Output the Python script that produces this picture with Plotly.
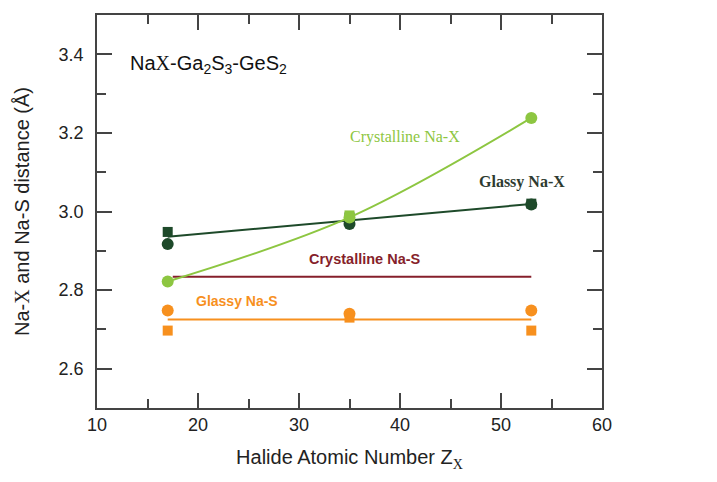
import plotly.graph_objects as go

# --- данные ---
z = [17, 35, 53]

cryst_nax = [2.822, 2.985, 3.238]
cryst_nax_sq_z = [35]
cryst_nax_sq = [2.99]

glassy_nax_circ = [2.917, 2.968, 3.018]
glassy_nax_sq = [2.948, 2.985, 3.020]
glassy_nax_fit_z = [17, 53]
glassy_nax_fit = [2.936, 3.019]

cryst_nas_z = [17.5, 53]
cryst_nas = [2.834, 2.834]

glassy_nas_circ = [2.748, 2.740, 2.748]
glassy_nas_sq = [2.697, 2.730, 2.697]
glassy_nas_fit_z = [17, 53]
glassy_nas_fit = [2.725, 2.725]

LIGHT_GREEN = '#8dc641'
DARK_GREEN = '#1e4a2a'
DARK_RED = '#861f2b'
ORANGE = '#f7901e'

fig = go.Figure()

# Glassy Na-S
fig.add_trace(go.Scatter(x=glassy_nas_fit_z, y=glassy_nas_fit, mode='lines',
                         line=dict(color=ORANGE, width=2)))
fig.add_trace(go.Scatter(x=z, y=glassy_nas_circ, mode='markers',
                         marker=dict(symbol='circle', size=12, color=ORANGE)))
fig.add_trace(go.Scatter(x=z, y=glassy_nas_sq, mode='markers',
                         marker=dict(symbol='square', size=10, color=ORANGE)))

# Crystalline Na-S
fig.add_trace(go.Scatter(x=cryst_nas_z, y=cryst_nas, mode='lines',
                         line=dict(color=DARK_RED, width=2)))

# Glassy Na-X
fig.add_trace(go.Scatter(x=glassy_nax_fit_z, y=glassy_nax_fit, mode='lines',
                         line=dict(color=DARK_GREEN, width=2)))
fig.add_trace(go.Scatter(x=z, y=glassy_nax_circ, mode='markers',
                         marker=dict(symbol='circle', size=12, color=DARK_GREEN)))
fig.add_trace(go.Scatter(x=z, y=glassy_nax_sq, mode='markers',
                         marker=dict(symbol='square', size=10, color=DARK_GREEN)))

# Crystalline Na-X
fig.add_trace(go.Scatter(x=z, y=cryst_nax, mode='lines+markers',
                         line=dict(color=LIGHT_GREEN, width=2, shape='spline'),
                         marker=dict(symbol='circle', size=12, color=LIGHT_GREEN)))
fig.add_trace(go.Scatter(x=cryst_nax_sq_z, y=cryst_nax_sq, mode='markers',
                         marker=dict(symbol='square', size=10, color=LIGHT_GREEN)))

# подписи
ann = [
    dict(x=13.1, y=3.375, xanchor='left',
         text='Na<span style="font-family:Liberation Serif">X</span>-Ga<sub>2</sub>S<sub>3</sub>-GeS<sub>2</sub>',
         font=dict(family='Liberation Sans, Arial', size=20, color='#111')),
    dict(x=40.5, y=3.19, text='Crystalline Na-X',
         font=dict(family='Liberation Serif, Times New Roman', size=16, color=LIGHT_GREEN)),
    dict(x=52.1, y=3.074, text='<b>Glassy Na-X</b>',
         font=dict(family='Liberation Serif, Times New Roman', size=16, color='#2e3b30')),
    dict(x=36.5, y=2.88, text='<b>Crystalline Na-S</b>',
         font=dict(family='Liberation Sans, Arial', size=14.5, color=DARK_RED)),
    dict(x=23.9, y=2.772, text='<b>Glassy Na-S</b>',
         font=dict(family='Liberation Sans, Arial', size=14, color=ORANGE)),
]
for a in ann:
    fig.add_annotation(showarrow=False, xref='x', yref='y', **a)

axis_common = dict(
    showgrid=False, zeroline=False, showline=True, linecolor='#444', linewidth=1.5,
    mirror='allticks', ticks='inside', ticklen=15, tickcolor='#444', tickwidth=1.5,
    tickfont=dict(family='Liberation Sans, Arial', size=18, color='#222'),
    automargin=False,
)

fig.update_xaxes(range=[10, 60], dtick=10,
                 minor=dict(ticks='inside', dtick=5, ticklen=9, tickcolor='#444', tickwidth=1.5),
                 title=dict(text='Halide Atomic Number Z<sub><span style="font-family:Liberation Serif">X</span></sub>',
                            font=dict(family='Liberation Sans, Arial', size=20, color='#222'), standoff=16),
                 **axis_common)
fig.update_yaxes(range=[2.5, 3.5], tickvals=[2.6, 2.8, 3.0, 3.2, 3.4],
                 ticktext=['2.6', '2.8', '3.0', '3.2', '3.4'],
                 ticklabelstandoff=8,
                 minor=dict(ticks='inside', tickvals=[2.7, 2.9, 3.1, 3.3], ticklen=9, tickcolor='#444', tickwidth=1.5),
                 title=dict(text='Na-<span style="font-family:Liberation Serif">X</span> and Na-S distance (Å)',
                            font=dict(family='Liberation Sans, Arial', size=20, color='#222'), standoff=24),
                 **axis_common)

# страница добавляет отступ 8px, поэтому размеры уменьшены
fig.update_layout(
    width=709, height=474,
    margin=dict(l=89, r=115, t=7, b=74),
    plot_bgcolor='white', paper_bgcolor='white',
    showlegend=False,
)

fig.write_html("out.html")
